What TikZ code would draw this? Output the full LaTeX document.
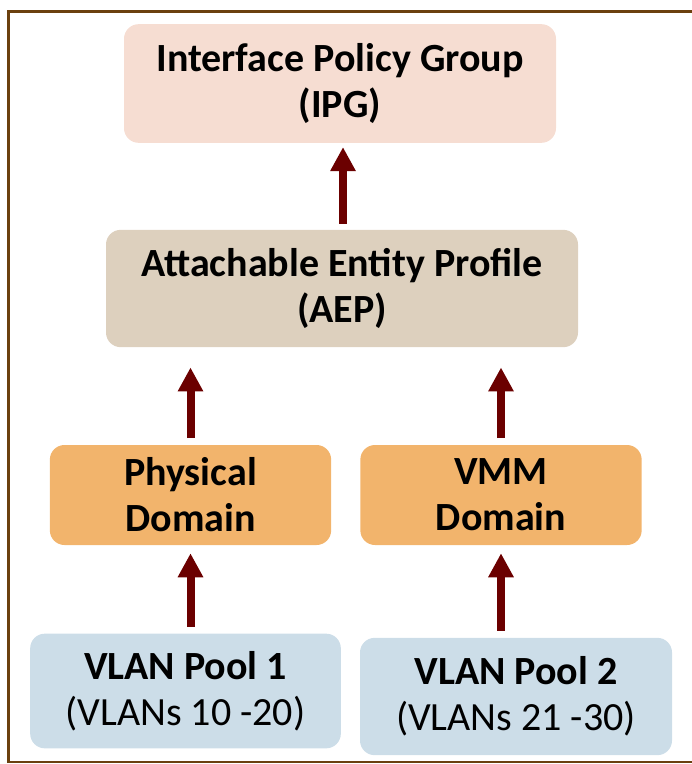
\documentclass[tikz,border=0pt]{standalone}
\usepackage{fontspec}
\setmainfont{Carlito}
\usetikzlibrary{positioning}
\usetikzlibrary{arrows.meta}
\definecolor{ipgcol}{HTML}{F6DDD2}
\definecolor{aepcol}{HTML}{DDD0BE}
\definecolor{domcol}{HTML}{F2B46C}
\definecolor{poolcol}{HTML}{CCDDE8}
\definecolor{arrowcol}{HTML}{6B0000}
\definecolor{framecol}{HTML}{6B400F}
\tikzset{%
  box/.style = {rectangle,rounded corners=11pt,align=center,
        font=\fontsize{30}{34.5}\selectfont\bfseries,inner sep=0pt},
  uparrow/.style = {-{Triangle[width=18pt,length=18pt]},line width=6pt,
        draw=arrowcol}
}
\begin{document}
\begin{tikzpicture}[x=0.75pt,y=-0.75pt]
    \useasboundingbox (0,0) rectangle (692,764);
    \draw[framecol,line width=2.2pt] (720,11.5) -- (8.5,11.5) -- (8.5,762) -- (720,762);
    % boxes
    \node[box,fill=ipgcol,minimum width=324pt,minimum height=89pt] (ipg) at (340,83.5)
        {Interface Policy Group\\(IPG)};
    \node[box,fill=aepcol,minimum width=354pt,minimum height=88pt] (aep) at (342,288.5)
        {Attachable Entity Profile\\(AEP)};
    \node[box,fill=domcol,minimum width=211pt,minimum height=75pt] (phys) at (190.5,495)
        {Physical\\Domain};
    \node[box,fill=domcol,minimum width=211pt,minimum height=75pt] (vmm) at (501,495)
        {VMM\\Domain};
    \node[box,fill=poolcol,minimum width=233pt,minimum height=86pt] (pool1) at (185.5,691)
        {VLAN Pool 1\\\mdseries(VLANs 10 -20)};
    \node[box,fill=poolcol,minimum width=234pt,minimum height=88pt] (pool2) at (516,696.5)
        {VLAN Pool 2\\\mdseries(VLANs 21 -30)};
    % arrows
    \draw[uparrow,shorten <=4.5pt,shorten >=3pt] (aep.north -| 343,0) -- (ipg.south -| 343,0);
    \draw[uparrow,shorten <=5pt,shorten >=15pt] (phys.north) -- (phys.north |- aep.south);
    \draw[uparrow,shorten <=5pt,shorten >=15pt] (vmm.north) -- (vmm.north |- aep.south);
    \draw[uparrow,shorten <=5pt,shorten >=6pt] (pool1.north -| phys.south) -- (phys.south);
    \draw[uparrow,shorten <=5pt,shorten >=6pt] (pool2.north -| vmm.south) -- (vmm.south);
\end{tikzpicture}
\end{document}
